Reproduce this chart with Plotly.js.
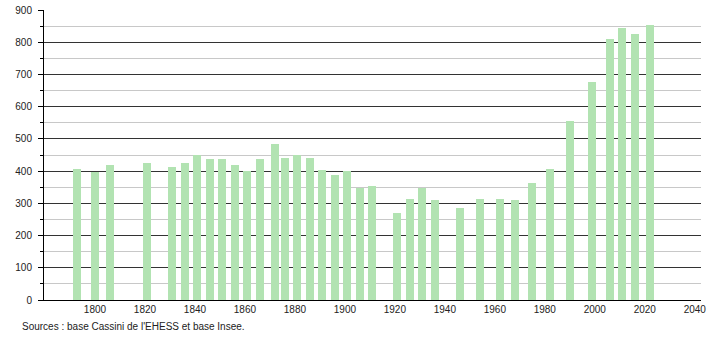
<!DOCTYPE html>
<html>
<head>
<meta charset="utf-8">
<script src="https://cdn.plot.ly/plotly-3.0.1.min.js"></script>
<style>html,body{margin:0;padding:0;background:#fff;}#chart{width:710px;height:340px;}</style>
</head>
<body>
<div id="chart"></div>
<script>
var years = [1793, 1800, 1806, 1821, 1831, 1836, 1841, 1846, 1851, 1856, 1861, 1866, 1872, 1876, 1881, 1886, 1891, 1896, 1901, 1906, 1911, 1921, 1926, 1931, 1936, 1946, 1954, 1962, 1968, 1975, 1982, 1990, 1999, 2006, 2011, 2016, 2022];
var population = [408, 396, 420, 426, 412, 426, 450, 438, 438, 418, 399, 437, 484, 442, 450, 442, 404, 387, 401, 348, 355, 271, 314, 349, 311, 287, 314, 314, 311, 364, 407, 556, 677, 811, 845, 824, 854];
var xTicks = [1800, 1820, 1840, 1860, 1880, 1900, 1920, 1940, 1960, 1980, 2000, 2020, 2040];
var sourceText = "Sources : base Cassini de l'EHESS et base Insee.";

var L = 44, R = 9.3, T = 10.3, B = 39.7;
var plotW = 710 - L - R, plotH = 340 - T - B;

var trace = {
  type: 'bar',
  x: years,
  y: population,
  width: 3.2,
  marker: {color: 'rgb(178,227,178)', line: {width: 0}},
  hoverinfo: 'x+y'
};

var layout = {
  width: 710, height: 340,
  margin: {l: L, r: R, t: T, b: B, pad: 0},
  paper_bgcolor: '#fff', plot_bgcolor: '#fff',
  showlegend: false,
  font: {family: 'Liberation Sans, Arial, sans-serif', size: 10, color: '#222'},
  xaxis: {
    range: [1779.6, 2042.5],
    tickmode: 'array', tickvals: xTicks, ticktext: xTicks.map(String),
    showgrid: false, zeroline: false,
    showline: true, linecolor: '#000', linewidth: 1,
    ticks: '', tickfont: {size: 10, color: '#222'},
    fixedrange: true
  },
  yaxis: {
    range: [0, 900],
    tickmode: 'linear', tick0: 0, dtick: 100,
    showgrid: true, gridcolor: '#333', gridwidth: 1,
    zeroline: false,
    showline: true, linecolor: '#000', linewidth: 1,
    ticks: 'outside', ticklen: 5, tickcolor: '#000', tickwidth: 1,
    ticklabelstandoff: 4,
    tickfont: {size: 10, color: '#222'},
    minor: {dtick: 50, showgrid: true, gridcolor: '#c8c8c8', gridwidth: 1, ticks: 'outside', ticklen: 3, tickcolor: '#000', tickwidth: 1},
    fixedrange: true
  },
  bargap: 0,
  annotations: [{
    text: sourceText,
    xref: 'paper', yref: 'paper',
    x: (20 - L) / plotW, y: -(327 - (340 - B)) / plotH,
    xanchor: 'left', yanchor: 'middle',
    showarrow: false,
    font: {size: 10, color: '#222', family: 'Liberation Sans, Arial, sans-serif'}
  }]
};

Plotly.newPlot('chart', [trace], layout, {displayModeBar: false, staticPlot: true});
</script>
</body>
</html>
